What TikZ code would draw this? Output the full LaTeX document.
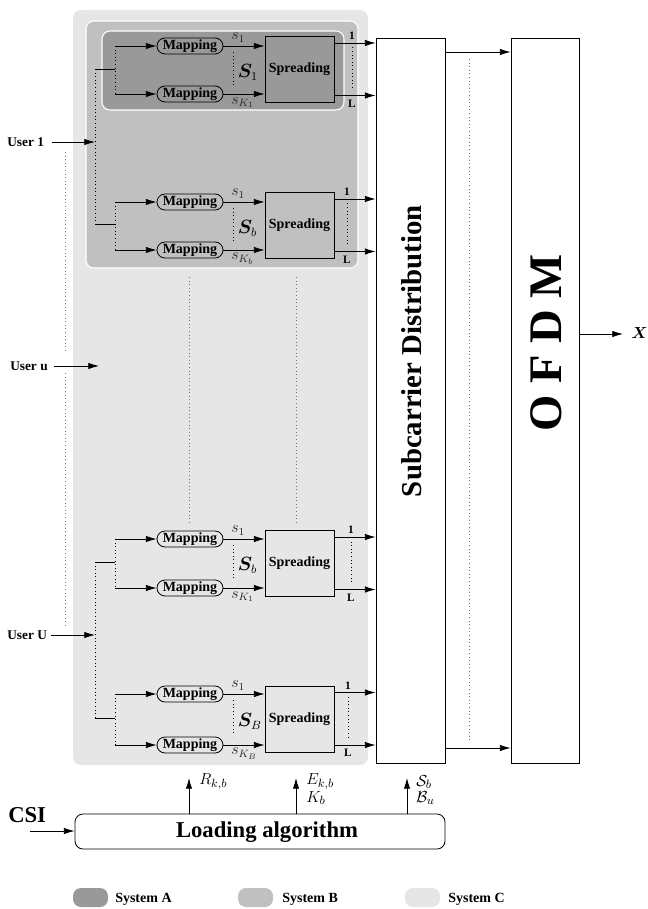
\documentclass[tikz,border=0pt]{standalone}
\usepackage[no-math]{fontspec}
\setmainfont{Liberation Serif}
\usepackage{amsmath}
\usepackage{bm}
\usetikzlibrary{arrows.meta}
\definecolor{sysA}{RGB}{153,153,153}
\definecolor{sysB}{RGB}{192,192,192}
\definecolor{sysC}{RGB}{230,230,230}
\tikzset{
 ln/.style={line width=0.6pt},
 arr/.style={line width=0.6pt,-{Latex[length=8pt,width=4.8pt]}},
 mapbox/.style={draw, line width=0.6pt, rounded corners=6pt, minimum width=49.5pt, minimum height=12pt, inner sep=0pt, font=\fontsize{10.5}{12}\selectfont\bfseries},
 spreadbox/.style={draw, line width=0.6pt, minimum width=51.75pt, minimum height=49.5pt, inner sep=0pt, font=\fontsize{10.5}{12}\selectfont\bfseries},
 bigbox/.style={draw, line width=0.6pt, minimum height=543.75pt, inner sep=0pt},
 dots/.style={dotted, line width=0.7pt},
 gdots/.style={dotted, line width=0.7pt, black!55},
 lbl/.style={inner sep=0pt, font=\fontsize{8.5}{9}\selectfont\bfseries},
 sig/.style={inner sep=0pt, anchor=west, text=black!85, font=\fontsize{12}{13}\selectfont},
 bigS/.style={inner sep=0pt, anchor=west, font=\fontsize{13.5}{14}\selectfont},
 userlbl/.style={inner sep=0pt, anchor=west, font=\fontsize{10}{12}\selectfont\bfseries},
 leglbl/.style={inner sep=0pt, anchor=west, font=\fontsize{10.5}{12}\selectfont\bfseries},
 param/.style={inner sep=0pt, anchor=west, font=\fontsize{12.5}{13}\selectfont},
 swatch/.style={rounded corners=6pt, minimum width=26.25pt, minimum height=14.25pt, inner sep=0pt},
}
% #1 name, #2 y map1, #3 y map2, #4 y centre spreading, #5 S label, #6 sK label, #7 x of 1/L, #8 branch y
\newcommand\mygroup[8]{%
 \node[mapbox] (#1m1) at (190,#2) {Mapping};
 \node[mapbox] (#1m2) at (190,#3) {Mapping};
 \node[spreadbox] (#1sp) at (299.5,#4) {Spreading};
 \coordinate (#1b1) at (115,#2);
 \coordinate (#1b2) at (115,#3);
 \coordinate (#1bm) at (115,#8);
 \coordinate (#1bl) at (95,#8);
 \draw[arr] (#1b1) -- (#1m1);
 \draw[arr] (#1b2) -- (#1m2);
 \draw[dots] (#1b1) -- (#1b2);
 \draw[ln] (#1bl) -- (#1bm);
 \draw[arr] (#1m1.east) -- (#1m1.east -| #1sp.west);
 \draw[arr] (#1m2.east) -- (#1m2.east -| #1sp.west);
 \node[sig] (#1s1) at (231,#2-8.5) {$s_1$};
 \node[sig] (#1sk) at (231,#3+8.5) {$#6$};
 \coordinate (#1d1) at (233,#2+6);
 \coordinate (#1d2) at (233,#3-9);
 \draw[dots] (#1d1) -- (#1d2);
 \node[bigS] (#1S) at (237.5,#2/2+#3/2+2) {$#5$};
 \coordinate (#1o1) at (#7,#4-26.5);
 \coordinate (#1o2) at (#7,#4+26);
 \draw[arr] (#1sp.east |- #1o1) -- (sub.west |- #1o1);
 \draw[arr] (#1sp.east |- #1o2) -- (sub.west |- #1o2);
 \node[lbl] (#1one) at (#7,#4-33.5) {1};
 \node[lbl] (#1L) at (#7,#4+34) {L};
 \coordinate (#1e1) at (#7,#4-22);
 \coordinate (#1e2) at (#7,#4+21);
 \draw[dots] (#1e1) -- (#1e2);
}
\begin{document}
\begin{tikzpicture}[x=0.75pt,y=-0.75pt]
\useasboundingbox (0,0) rectangle (647,909);
% system areas
\fill[sysC, rounded corners=6pt] (73,10) rectangle (368,765);
\filldraw[fill=sysB, draw=white, line width=0.8pt, rounded corners=6pt] (86,21) rectangle (358,268);
\filldraw[fill=sysA, draw=white, line width=0.8pt, rounded corners=6pt] (102,31) rectangle (344,110);
% big boxes
\node[bigbox, minimum width=51.75pt] (sub) at (410.5,400.5) {};
\node[bigbox, minimum width=51pt] (ofdm) at (545,400.5) {};
\node[rotate=90, inner sep=0pt, font=\fontsize{21.6}{24}\selectfont\bfseries] (subtxt) at (411.5,351) {Subcarrier Distribution};
\node[rotate=90, inner sep=0pt, font=\fontsize{35}{40}\selectfont\bfseries] (ofdmtxt) at (546,343) {O F D M};
% groups
\mygroup{g1}{46}{94}{69.5}{\bm{S}_1}{s_{K_1}}{352}{69}
\mygroup{g2}{202}{250}{225.5}{\bm{S}_b}{s_{K_b}}{347}{224}
\mygroup{g3}{539}{588}{563.5}{\bm{S}_b}{s_{K_1}}{351}{562}
\mygroup{g4}{694}{745}{719}{\bm{S}_B}{s_{K_B}}{348}{718}
% user branches
\draw[dots] (g1bl) -- (g2bl);
\draw[dots] (g3bl) -- (g4bl);
\node[userlbl] (u1) at (7,142) {User 1};
\node[userlbl] (uu) at (10,366) {User u};
\node[userlbl] (uU) at (7,635) {User U};
\coordinate (u1e) at (95,142);
\coordinate (uue) at (99,366);
\coordinate (uUe) at (95,635);
\draw[arr] ([xshift=6pt]u1.east) -- (u1e);
\draw[arr] ([xshift=4.5pt]uu.east) -- (uue);
\draw[arr] ([xshift=3pt]uU.east) -- (uUe);
\coordinate (ud1) at (65,152);
\coordinate (ud2) at (65,352);
\coordinate (ud3) at (65,373);
\coordinate (ud4) at (65,628);
\draw[gdots] (ud1) -- (ud2);
\draw[gdots] (ud3) -- (ud4);
% vertical dots in gray area
\coordinate (v1a) at (189,277);
\coordinate (v1b) at (189,522);
\coordinate (v2a) at (296,277);
\coordinate (v2b) at (296,522);
\draw[gdots] (v1a) -- (v1b);
\draw[gdots] (v2a) -- (v2b);
% subcarrier -> ofdm
\coordinate (t1) at (445,52);
\coordinate (t2) at (445,748);
\draw[arr] (sub.east |- t1) -- (ofdm.west |- t1);
\draw[arr] (sub.east |- t2) -- (ofdm.west |- t2);
\coordinate (dd1) at (469,59);
\coordinate (dd2) at (469,742);
\draw[gdots] (dd1) -- (dd2);
% output X
\node[inner sep=0pt, font=\fontsize{13}{14}\selectfont] (xo) at (639.5,333) {$\bm{X}$};
\coordinate (xt) at (623,334);
\draw[arr] (ofdm.east |- xt) -- (xt);
% loading algorithm
\node[draw, line width=0.6pt, rounded corners=6pt, minimum width=277.5pt, minimum height=26.25pt, inner sep=0pt] (ld) at (260,831.5) {};
\node[inner sep=0pt, font=\fontsize{17}{20}\selectfont\bfseries] (ldtxt) at (267,832) {Loading algorithm};
\node[inner sep=0pt, anchor=west, font=\fontsize{17}{20}\selectfont\bfseries] (csi) at (8,815) {CSI};
\coordinate (csia) at (30,831);
\draw[arr] (csia) -- (ld.west |- csia);
\coordinate (r1) at (189,778);
\coordinate (r2) at (296,778);
\coordinate (r3) at (407,778);
\draw[arr] (r1 |- ld.north) -- (r1);
\draw[arr] (r2 |- ld.north) -- (r2);
\draw[arr] (r3 |- ld.north) -- (r3);
\node[param] (pR) at (199,782) {$R_{k,b}$};
\node[param] (pE) at (306,782) {$E_{k,b}$};
\node[param] (pK) at (306,798) {$K_b$};
\node[param] (pS) at (416,782) {$\mathcal{S}_b$};
\node[param] (pB) at (416,798) {$\mathcal{B}_u$};
% legend
\node[swatch, fill=sysA] (la) at (90.5,897.5) {};
\node[swatch, fill=sysB] (lb) at (255.5,897.5) {};
\node[swatch, fill=sysC] (lc) at (422.5,897.5) {};
\node[leglbl] (ta) at (115,899) {System A};
\node[leglbl] (tb) at (282,899) {System B};
\node[leglbl] (tc) at (448,899) {System C};
\end{tikzpicture}
\end{document}
